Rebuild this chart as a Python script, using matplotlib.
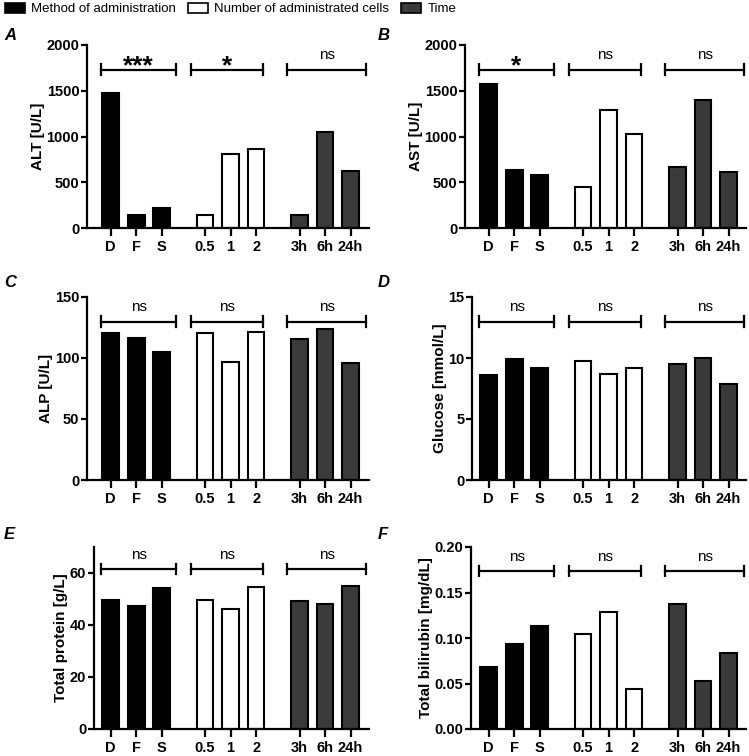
import matplotlib
matplotlib.use("Agg")
import matplotlib.pyplot as plt
from matplotlib.patches import Patch
from matplotlib.ticker import FormatStrFormatter

plt.rcParams["font.family"] = ["Liberation Sans", "DejaVu Sans"]

# bar labels and x positions (three groups, gap between groups)
labels = ["D", "F", "S", "0.5", "1", "2", "3h", "6h", "24h"]
positions = [0, 1, 2, 3.69, 4.69, 5.69, 7.39, 8.39, 9.39]
group_of_bar = [0, 0, 0, 1, 1, 1, 2, 2, 2]

legend_names = ["Method of administration", "Number of administrated cells", "Time"]
group_colors = ["#000000", "#ffffff", "#3a3a3a"]

# values
alt = [1480, 145, 218, 145, 807, 862, 145, 1051, 618]
ast = [1575, 629, 575, 447, 1291, 1025, 662, 1400, 615]
alp = [120.2, 116.3, 104.6, 120.2, 96.9, 121.5, 115.5, 123.4, 95.5]
glucose = [8.62, 9.91, 9.17, 9.77, 8.65, 9.17, 9.47, 9.99, 7.86]
protein = [49.6, 47.3, 54.4, 49.6, 46.2, 54.7, 49.4, 48.1, 55.0]
bilirubin = [0.068, 0.093, 0.113, 0.104, 0.129, 0.044, 0.137, 0.053, 0.083]

# brackets (x ranges) and significance labels
brackets = [(-0.37, 2.55), (3.16, 5.96), (6.9, 10.0)]
sig_A = ["***", "*", "ns"]
sig_B = ["*", "ns", "ns"]
sig_ns = ["ns", "ns", "ns"]

W, H = 749, 756
fig = plt.figure(figsize=(W / 100, H / 100), dpi=100)

px_per_unit = 25.55
panels = [
    # letter, values, ylabel, ymax, ticks, sig, ax_left, ax_right, top, bottom, center0, fmt
    ("A", alt, "ALT [U/L]", 2000, [0, 500, 1000, 1500, 2000], sig_A, 87, 369, 45, 228, 110.7, "%d"),
    ("B", ast, "AST [U/L]", 2000, [0, 500, 1000, 1500, 2000], sig_B, 465, 746, 45, 228, 488.7, "%d"),
    ("C", alp, "ALP [U/L]", 150, [0, 50, 100, 150], sig_ns, 87, 369, 297, 480, 110.7, "%d"),
    ("D", glucose, "Glucose [mmol/L]", 15, [0, 5, 10, 15], sig_ns, 472, 746, 297, 480, 488.7, "%d"),
    ("E", protein, "Total protein [g/L]", 70, [0, 20, 40, 60], sig_ns, 94, 369, 547, 729, 110.7, "%d"),
    ("F", bilirubin, "Total bilirubin [mg/dL]", 0.20, [0, 0.05, 0.10, 0.15, 0.20], sig_ns, 471, 746, 547, 729, 488.7, "%.2f"),
]
letter_pos = {"A": (4, 40), "B": (378, 40), "C": (4, 287), "D": (378, 287), "E": (4, 539), "F": (378, 539)}

for letter, vals, ylabel, ymax, ticks, sig, l, r, t, b, c0, fmt in panels:
    ax = fig.add_axes([l / W, 1 - b / H, (r - l) / W, (b - t) / H])
    ax.set_xlim((l - c0) / px_per_unit, (r - c0) / px_per_unit)
    ax.set_ylim(0, ymax)
    colors = [group_colors[g] for g in group_of_bar]
    ax.bar(positions, vals, width=0.65, color=colors, edgecolor="black", linewidth=1.5)
    ax.set_xticks(positions)
    ax.set_xticklabels(labels, fontweight="bold", fontsize=10.5)
    ax.set_yticks(ticks)
    ax.yaxis.set_major_formatter(FormatStrFormatter(fmt))
    for lab in ax.get_yticklabels():
        lab.set_fontweight("bold")
        lab.set_fontsize(10.5)
    ax.set_ylabel(ylabel, fontweight="bold", fontsize=11, labelpad=1)
    for s in ["top", "right"]:
        ax.spines[s].set_visible(False)
    for s in ["left", "bottom"]:
        ax.spines[s].set_linewidth(1.6)
    ax.tick_params(axis="x", width=1.6, length=6, direction="out", pad=2.5)
    ax.tick_params(axis="y", width=1.6, length=4, direction="out", pad=1.5)

    # significance brackets
    ybar = 0.866 * ymax if ymax != 70 else 61.5
    cap = 0.028 * ymax
    for (x0, x1), s in zip(brackets, sig):
        ax.plot([x0, x1], [ybar, ybar], color="black", lw=1.6, clip_on=False)
        for xc in (x0, x1):
            ax.plot([xc, xc], [ybar - cap, ybar + cap], color="black", lw=1.6, clip_on=False)
        xm = (x0 + x1) / 2
        if s == "ns":
            ax.text(xm, ybar + 0.055 * ymax, s, ha="center", va="baseline", fontsize=11)
        else:
            ax.text(xm, ybar - 0.018 * ymax, s, ha="center", va="baseline", fontsize=19, fontweight="bold")

    lx, ly = letter_pos[letter]
    fig.text(lx / W, 1 - ly / H, letter, fontsize=12, fontweight="bold", style="italic")

handles = [Patch(facecolor=c, edgecolor="black", linewidth=1.2) for c in group_colors]
fig.legend(handles, legend_names, loc="upper left", bbox_to_anchor=(0.003, 1.0), ncol=3,
           frameon=False, fontsize=9.5, handlelength=1.5, handleheight=0.8, handletextpad=0.5,
           columnspacing=0.9, borderaxespad=0.1, borderpad=0.1)

fig.savefig("out.png", dpi=100)
